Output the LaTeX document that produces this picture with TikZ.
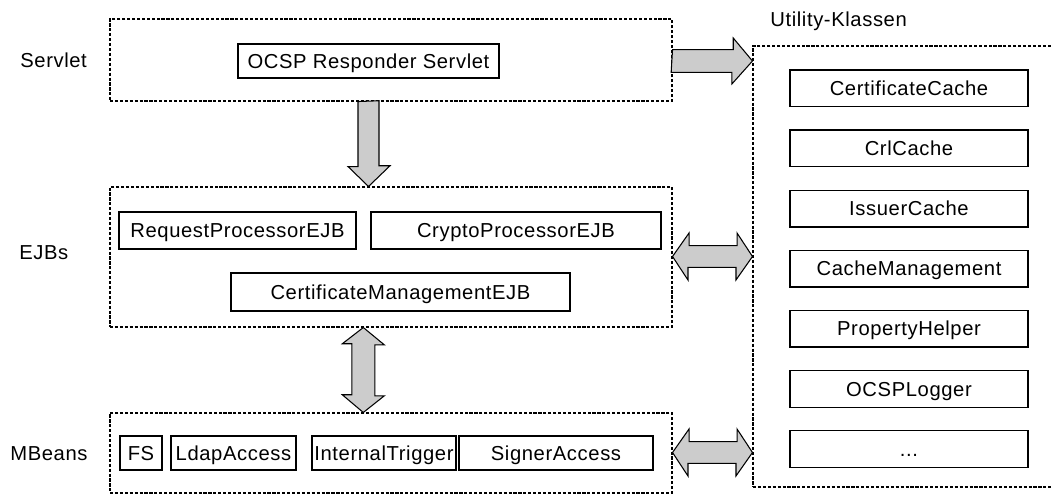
\documentclass[tikz,border=0pt]{standalone}
\usepackage{fontspec}
\setmainfont{Liberation Sans}[LetterSpace=3]
\usetikzlibrary{calc}
\definecolor{arrowfill}{RGB}{204,204,204}

% rectangle node given by its corners (in px units): style, name, x1, y1, x2, y2, text
\newcommand\rbox[7]{%
  \node[#1, minimum width={(#5-#3)*0.569055pt}, minimum height={(#6-#4)*0.569055pt}]
    (#2) at ({(#3+#5)/2},{(#4+#6)/2}) {#7};}

\tikzset{
  every node/.style={font=\fontsize{11.5}{13}\selectfont},
  grp/.style={draw, line width=0.6pt, dash pattern=on 1.8pt off 1pt, inner sep=0pt},
  item/.style={draw, line width=0.75pt, inner sep=0pt, text height=8.2pt, text depth=0pt},
  lbl/.style={anchor=base west, inner sep=0pt},
  blk/.style={draw, fill=arrowfill, line width=0.6pt, line join=miter},
}

\begin{document}
\begin{tikzpicture}[x=0.569055pt, y=-0.569055pt]
\useasboundingbox (0,0) rectangle (1052,496);
\clip (0,0) rectangle (1052,496);

% layer groups
\rbox{grp}{servlet}{110}{19}{672}{101}{}
\rbox{grp}{ejb}{110}{187}{672}{327}{}
\rbox{grp}{mbeans}{110}{413}{672}{493}{}
\rbox{grp}{util}{753}{46}{1075}{487}{}

% group labels
\node[lbl] (lservlet) at (20,67) {Servlet};
\node[lbl] (lejb) at (19,259) {EJBs};
\node[lbl] (lmbeans) at (10,460) {MBeans};
\node[lbl] (lutil) at (770,27) {Utility-Klassen};

% servlet
\rbox{item}{ocsp}{238}{44}{499}{78}{OCSP Responder Servlet}

% EJBs
\rbox{item}{req}{119}{212}{356}{249}{RequestProcessorEJB}
\rbox{item}{crypto}{371}{212}{661}{249}{CryptoProcessorEJB}
\rbox{item}{certmgmt}{231}{273}{570}{311}{CertificateManagementEJB}

% MBeans
\rbox{item}{fs}{120}{436}{162}{470}{FS}
\rbox{item}{ldap}{171}{436}{296}{470}{LdapAccess}
\rbox{item}{trigger}{312}{436}{456}{470}{InternalTrigger}
\rbox{item}{signer}{459}{436}{653}{470}{SignerAccess}

% utility classes
\rbox{item}{u1}{790}{70}{1028}{106.7}{CertificateCache}
\rbox{item}{u2}{790}{130.1}{1028}{166.8}{CrlCache}
\rbox{item}{u3}{790}{190.2}{1028}{226.9}{IssuerCache}
\rbox{item}{u4}{790}{250.3}{1028}{287}{CacheManagement}
\rbox{item}{u5}{790}{310.4}{1028}{347.1}{PropertyHelper}
\rbox{item}{u6}{790}{370.5}{1028}{407.2}{OCSPLogger}
\rbox{item}{u7}{790}{430.6}{1028}{467.3}{...}

% block arrows
\coordinate (dx) at (368.5,0);
\coordinate (vx) at (363.3,0);
\coordinate (ry) at (0,61);
\coordinate (h1) at (0,256.5);
\coordinate (h2) at (0,452.5);

% servlet -> EJBs
\draw[blk] ($(dx |- servlet.south)+(-10.5,0)$) -- ++(0,65) -- ++(-10,0)
  -- (dx |- ejb.north) -- ++(21.5,-20.7) -- ++(-11,0) -- ++(0,-65) -- cycle;

% EJBs <-> MBeans
\draw[blk] (vx |- ejb.south) -- ++(21,17.3) -- ++(-9.5,0) -- ++(0,51) -- ++(9.5,0)
  -- (vx |- mbeans.north) -- ++(-21,-17.7) -- ++(9.5,0) -- ++(0,-51) -- ++(-9.5,0) -- cycle;

% servlet -> utility classes
\draw[blk] ($(servlet.east |- ry)+(0,-11.3)$) -- ++(60.7,0) -- ++(0,-11.7)
  -- (util.west |- ry) -- ++(-20.6,23) -- ++(0,-11.7) -- ++(-60.7,0) -- cycle;

% EJBs <-> utility classes
\draw[blk] (ejb.east |- h1) -- ++(16.5,-23.5) -- ++(0,12.7) -- ++(48,0) -- ++(0,-12.7)
  -- (util.west |- h1) -- ++(-16.5,23.5) -- ++(0,-12.7) -- ++(-48,0) -- ++(0,12.7) -- cycle;

% MBeans <-> utility classes
\draw[blk] (mbeans.east |- h2) -- ++(16.5,-23.5) -- ++(0,12.7) -- ++(48,0) -- ++(0,-12.7)
  -- (util.west |- h2) -- ++(-16.5,23.5) -- ++(0,-12.7) -- ++(-48,0) -- ++(0,12.7) -- cycle;
\end{tikzpicture}
\end{document}
